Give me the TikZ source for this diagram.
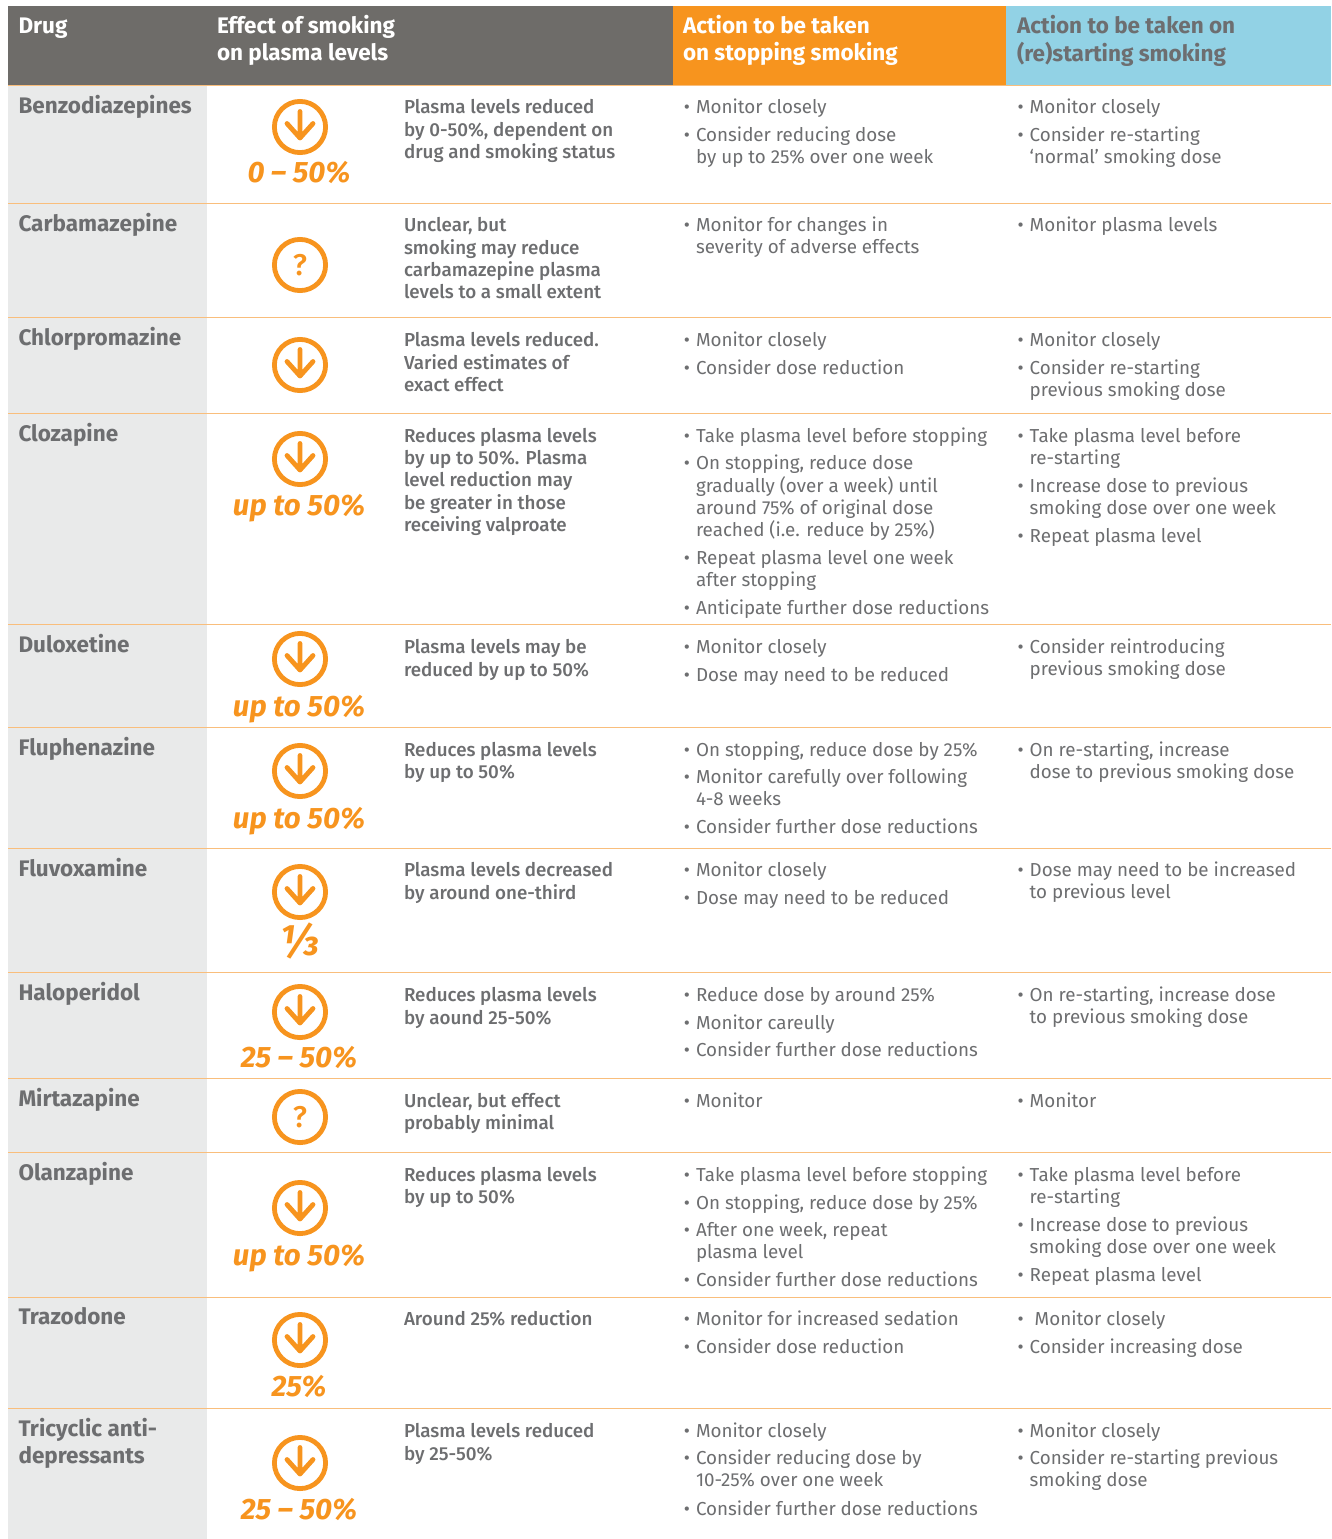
\documentclass[tikz,border=0pt]{standalone}
\usepackage{fontspec}
\setmainfont{Fira Sans}
\newfontfamily\medfont{Fira Sans Medium}
\definecolor{hdgrey}{HTML}{6E6C69}
\definecolor{hdorange}{HTML}{F7941E}
\definecolor{hdblue}{HTML}{92D2E5}
\definecolor{colgrey}{HTML}{E9EAEA}
\definecolor{txtgrey}{HTML}{6D6E70}
\definecolor{rulecol}{HTML}{F9BE7C}
\newcommand\ml[1]{\begin{tabular}[t]{@{}l@{}}#1\end{tabular}}
\tikzset{
  x=1pt,y=-1pt,
  cellbase/.style={anchor=base west,inner sep=0pt,outer sep=0pt,text=txtgrey,yshift=-0.7pt},
  hdtext/.style={cellbase,text=white,font=\fontsize{22.5}{27}\selectfont\bfseries},
  hddark/.style={hdtext,text=txtgrey},
  drugname/.style={cellbase,font=\fontsize{22.5}{27}\selectfont\bfseries},
  effect/.style={cellbase,font=\fontsize{18.8}{22.3}\selectfont\medfont},
  action/.style={cellbase,font=\fontsize{18.8}{22.2}\selectfont},
  pct/.style={anchor=base,inner sep=0pt,yshift=0.7pt,text=hdorange,font=\fontsize{29.5}{34}\selectfont\bfseries\itshape},
  pctbig/.style={pct,font=\fontsize{43}{46}\selectfont\bfseries\itshape},
  ring/.style={circle,draw=hdorange,line width=4.8pt,minimum size=51.2pt,inner sep=0pt},
  arrowmark/.style={draw=hdorange,line width=4.8pt,line cap=round,line join=round},
  qmark/.style={text=hdorange,font=\fontsize{30}{32}\selectfont\medfont},
  rowrule/.style={draw=rulecol,line width=1pt},
}
\newcommand\bul{\llap{•\hspace{6pt}}}
\newcommand\downring[3]{%
  \node[ring] (#1) at (#2,#3) {};
  \draw[arrowmark,shift={(#2,#3)}] (0,-15.5) -- (0,11) (-13,-3.5) -- (0,11) -- (13,-3.5);
}
\newcommand\questring[3]{%
  \node[ring,qmark] (#1) at (#2,#3) {?};
}
\newcommand\acol[3]{\node[action] (#1) at (696,#2) {\ml{\bul #3}};}
\newcommand\bcol[3]{\node[action] (#1) at (1029.7,#2) {\ml{\bul #3}};}
\newcommand\ecol[3]{\node[effect] (#1) at (404,#2) {\ml{#3}};}
\begin{document}
\begin{tikzpicture}
\useasboundingbox (0,0) rectangle (1331,1539);
\fill[white] (0,0) rectangle (1331,1539);
% header and column bands
\fill[hdgrey] (8,6) rectangle (673,85);
\fill[hdorange] (673,6) rectangle (1006,85);
\fill[hdblue] (1006,6) rectangle (1331,85);
\fill[colgrey] (8,85) rectangle (207,1539);
\foreach \yy in {85,203,317,413,624,727,848,972,1078,1152,1297,1408}
  \draw[rowrule] (8,\yy) -- (1331,\yy);
% header
\node[hdtext] (hdrug) at (18.5,33) {Drug};
\node[hdtext] (heffect) at (217,33) {\ml{Effect of smoking\\on plasma levels}};
\node[hdtext] (hstop) at (683,33) {\ml{Action to be taken\\on stopping smoking}};
\node[hddark] (hstart) at (1017,33) {\ml{Action to be taken on\\(re)starting smoking}};
% drug names
\node[drugname] (d1) at (18.5,113) {Benzodiazepines};
\node[drugname] (d2) at (18.5,231) {Carbamazepine};
\node[drugname] (d3) at (18.5,345) {Chlorpromazine};
\node[drugname] (d4) at (18.5,441) {Clozapine};
\node[drugname] (d5) at (18.5,652) {Duloxetine};
\node[drugname] (d6) at (18.5,755) {Fluphenazine};
\node[drugname] (d7) at (18.5,876) {Fluvoxamine};
\node[drugname] (d8) at (18.5,1000) {Haloperidol};
\node[drugname] (d9) at (18.5,1106) {Mirtazapine};
\node[drugname] (d10) at (18.5,1180) {Olanzapine};
\node[drugname] (d11) at (18.5,1324) {Trazodone};
\node[drugname] (d12) at (18.5,1436) {\ml{Tricyclic anti-\\depressants}};
% rings
\downring{r1}{300}{127}
\questring{r2}{300}{265}
\downring{r3}{300}{365}
\downring{r4}{300}{459}
\downring{r5}{300}{659}
\downring{r6}{300}{771}
\downring{r7}{300}{892}
\downring{r8}{300}{1012}
\questring{r9}{300}{1117}
\downring{r10}{300}{1208}
\downring{r11}{300}{1340}
\downring{r12}{300}{1463}
% percentages
\node[pct] (p1) at (299,183) {0 – 50\%};
\node[pct] (p4) at (299,516) {up to 50\%};
\node[pct] (p5) at (299,717) {up to 50\%};
\node[pct] (p6) at (299,829) {up to 50\%};
\node[pctbig] (p7) at (299.5,956) {⅓};
\node[pct] (p8) at (299,1068) {25 – 50\%};
\node[pct] (p10) at (299,1266) {up to 50\%};
\node[pct] (p11) at (299,1397) {25\%};
\node[pct] (p12) at (299,1520) {25 – 50\%};
% effect text
\ecol{e1}{113}{Plasma levels reduced\\by 0-50\%, dependent on\\drug and smoking status}
\ecol{e2}{231}{Unclear, but\\smoking may reduce\\carbamazepine plasma\\levels to a small extent}
\ecol{e3}{346}{Plasma levels reduced.\\Varied estimates of\\exact effect}
\ecol{e4}{441.6}{Reduces plasma levels\\by up to 50\%. Plasma\\level reduction may\\be greater in those\\receiving valproate}
\ecol{e5}{653}{Plasma levels may be\\reduced by up to 50\%}
\ecol{e6}{755.5}{Reduces plasma levels\\by up to 50\%}
\ecol{e7}{876}{Plasma levels decreased\\by around one-third}
\ecol{e8}{1001}{Reduces plasma levels\\by aound 25-50\%}
\ecol{e9}{1106.5}{Unclear, but effect\\probably minimal}
\ecol{e10}{1180.5}{Reduces plasma levels\\by up to 50\%}
\ecol{e11}{1325}{Around 25\% reduction}
\ecol{e12}{1437}{Plasma levels reduced\\by 25-50\%}
% stopping actions
\acol{a1a}{113}{Monitor closely}
\acol{a1b}{141}{Consider reducing dose\\by up to 25\% over one week}
\acol{a2a}{231}{Monitor for changes in\\severity of adverse effects}
\acol{a3a}{346}{Monitor closely}
\acol{a3b}{374}{Consider dose reduction}
\acol{a4a}{442}{Take plasma level before stopping}
\acol{a4b}{469}{On stopping, reduce dose\\gradually (over a week) until\\around 75\% of original dose\\reached (i.e. reduce by 25\%)}
\acol{a4c}{564}{Repeat plasma level one week\\after stopping}
\acol{a4d}{614}{Anticipate further dose reductions}
\acol{a5a}{653}{Monitor closely}
\acol{a5b}{681}{Dose may need to be reduced}
\acol{a6a}{756}{On stopping, reduce dose by 25\%}
\acol{a6b}{783}{Monitor carefully over following\\4-8 weeks}
\acol{a6c}{833}{Consider further dose reductions}
\acol{a7a}{876}{Monitor closely}
\acol{a7b}{904}{Dose may need to be reduced}
\acol{a8a}{1001}{Reduce dose by around 25\%}
\acol{a8b}{1029}{Monitor careully}
\acol{a8c}{1056}{Consider further dose reductions}
\acol{a9a}{1107}{Monitor}
\acol{a10a}{1181}{Take plasma level before stopping}
\acol{a10b}{1209}{On stopping, reduce dose by 25\%}
\acol{a10c}{1236}{After one week, repeat\\plasma level}
\acol{a10d}{1286}{Consider further dose reductions}
\acol{a11a}{1325}{Monitor for increased sedation}
\acol{a11b}{1353}{Consider dose reduction}
\acol{a12a}{1437}{Monitor closely}
\acol{a12b}{1464}{Consider reducing dose by\\10-25\% over one week}
\acol{a12c}{1515}{Consider further dose reductions}
% restarting actions
\bcol{b1a}{113}{Monitor closely}
\bcol{b1b}{141}{Consider re-starting\\‘normal’ smoking dose}
\bcol{b2a}{231}{Monitor plasma levels}
\bcol{b3a}{346}{Monitor closely}
\bcol{b3b}{374}{Consider re-starting\\previous smoking dose}
\bcol{b4a}{442}{Take plasma level before\\re-starting}
\bcol{b4b}{492}{Increase dose to previous\\smoking dose over one week}
\bcol{b4c}{542}{Repeat plasma level}
\bcol{b5a}{653}{Consider reintroducing\\previous smoking dose}
\bcol{b6a}{756}{On re-starting, increase\\dose to previous smoking dose}
\bcol{b7a}{876}{Dose may need to be increased\\to previous level}
\bcol{b8a}{1001}{On re-starting, increase dose\\to previous smoking dose}
\bcol{b9a}{1107}{Monitor}
\bcol{b10a}{1181}{Take plasma level before\\re-starting}
\bcol{b10b}{1231}{Increase dose to previous\\smoking dose over one week}
\bcol{b10c}{1281}{Repeat plasma level}
\bcol{b11a}{1325}{\hspace{5pt}Monitor closely}
\bcol{b11b}{1353}{Consider increasing dose}
\bcol{b12a}{1437}{Monitor closely}
\bcol{b12b}{1464}{Consider re-starting previous\\smoking dose}
\end{tikzpicture}
\end{document}
